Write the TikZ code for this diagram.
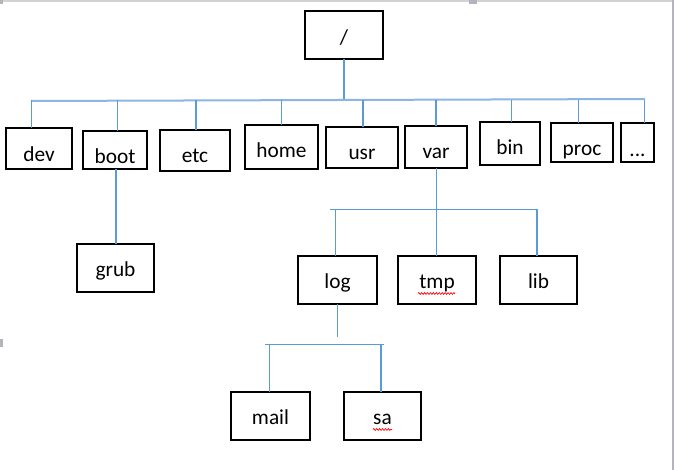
\documentclass[tikz,border=0pt]{standalone}
\usepackage{fontspec}
\setmainfont{Carlito}
\usetikzlibrary{decorations.pathmorphing}
\definecolor{conn}{HTML}{5B9BD5}
\definecolor{busc}{HTML}{8DB4E2}
\definecolor{frame}{HTML}{B4B4BE}
\definecolor{frametop}{HTML}{D2D2D2}
\tikzset{
  bx/.style={draw=black, line width=1.3pt, inner sep=0pt, outer sep=0pt,
    font=\fontsize{16}{19}\selectfont, text depth=0pt},
  tick/.style={draw=conn, line width=0.95pt},
  bus/.style={draw=busc, line width=1.5pt},
  wavy/.style={draw=red, line width=0.5pt, decorate,
    decoration={zigzag, segment length=2.2pt, amplitude=0.7pt}}
}
\begin{document}
\begin{tikzpicture}[x=0.75pt, y=-0.75pt]
\useasboundingbox (0,0) rectangle (674,470);
% window frame
\fill[frametop] (0,0.5) rectangle (674,1.6);
\fill[frame] (671.5,0) rectangle (674,470);
\fill[frame] (0,0) rectangle (3,4);
\fill[frame] (469,0) rectangle (477,4);
\fill[frame] (0,339) rectangle (3,347);

% boxes
\node[bx, minimum width=58.5pt, minimum height=36pt, text height=15pt] (root) at (344,35) {/};
\node[bx, minimum width=49.5pt, minimum height=30.75pt, text height=19.8pt] (dev) at (39,148.5) {dev};
\node[bx, minimum width=48pt, minimum height=28.5pt, text height=21pt] (boot) at (115,150) {boot};
\node[bx, minimum width=52.5pt, minimum height=30.75pt, text height=18.3pt] (etc) at (195,150.5) {etc};
\node[bx, minimum width=54.75pt, minimum height=33pt, text height=16pt] (home) at (281.5,147) {home};
\node[bx, minimum width=54pt, minimum height=30.75pt, text height=17.7pt] (usr) at (362,147.5) {usr};
\node[bx, minimum width=46.5pt, minimum height=31.5pt, text height=18pt] (var) at (436,147) {var};
\node[bx, minimum width=45pt, minimum height=32.25pt, text height=17.25pt] (bin) at (510,143.5) {bin};
\node[bx, minimum width=46.5pt, minimum height=29.25pt, text height=19.8pt] (proc) at (582,142.5) {proc};
\node[bx, minimum width=24.75pt, minimum height=29.25pt, text height=21pt] (dots) at (637.5,142.5) {...};

\node[bx, minimum width=57.75pt, minimum height=36pt, text height=12.6pt] (grub) at (115.5,268) {grub};
\node[bx, minimum width=59.25pt, minimum height=36pt, text height=12.6pt] (log) at (337.5,280) {log};
\node[bx, minimum width=58.5pt, minimum height=36pt, text height=12.6pt] (tmp) at (437,280) {tmp};
\node[bx, minimum width=57.75pt, minimum height=36pt, text height=12.6pt] (lib) at (538.5,280) {lib};
\node[bx, minimum width=59.25pt, minimum height=36pt, text height=13pt] (mail) at (270.5,416) {mail};
\node[bx, minimum width=57.75pt, minimum height=36pt, text height=13pt] (sa) at (382.5,416) {sa};

% spell-check underlines
\draw[wavy] (418,293.5) -- (455,293.5);
\draw[wavy] (373,429.5) -- (392,429.5);

% level 1 connectors
\coordinate (b1L) at (31,101);
\coordinate (b1R) at (645,99);
\coordinate (b1root) at (344,100);
\draw[tick] (root.south -| b1root) -- (b1root);
\draw[bus] (b1L) -- (b1R);
\foreach \x/\n in {31.5/dev, 117.5/boot, 196/etc, 281.5/home, 363/usr, 436/var, 511.5/bin, 578.5/proc, 644.5/dots}{
  \draw[tick] (\x,100) -- (\x,100 |- \n.north);
}

% boot -> grub
\coordinate (gt) at (116,0);
\draw[tick] (gt |- grub.north) -- (gt |- boot.south);

% var -> log/tmp/lib
\coordinate (vt) at (436.5,0);
\coordinate (b2L) at (330,209.5);
\coordinate (b2R) at (536.5,209.5);
\draw[tick] (vt |- var.south) -- (vt |- tmp.north);
\draw[tick] (b2L) -- (b2R);
\draw[tick] (335.5,209.5) -- (335.5,209.5 |- log.north);
\draw[tick] (537,209.5) -- (537,209.5 |- lib.north);

% log -> mail/sa
\coordinate (logend) at (337.5,336.7);
\draw[tick] (logend |- log.south) -- (logend);
\coordinate (b3L) at (265.3,344.5);
\coordinate (b3R) at (383.5,344.5);
\draw[tick] (b3L) -- (b3R);
\draw[tick] (269.5,344.5) -- (269.5,344.5 |- mail.north);
\draw[tick] (381,344.5) -- (381,344.5 |- sa.north);
\end{tikzpicture}
\end{document}
